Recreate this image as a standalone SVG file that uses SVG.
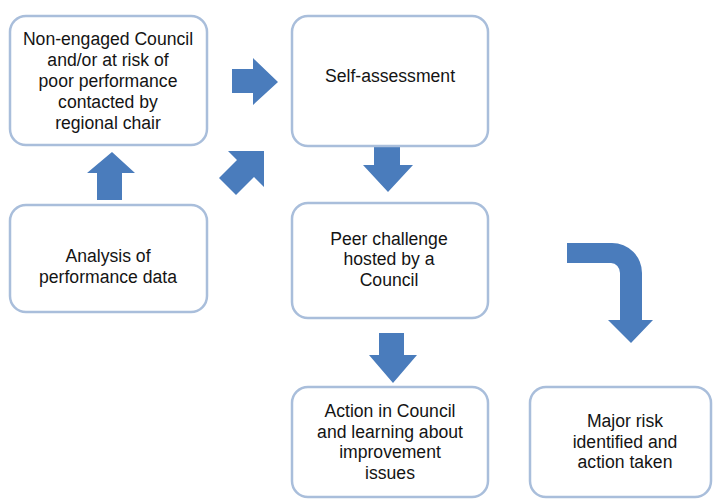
<svg xmlns="http://www.w3.org/2000/svg" width="714" height="499" viewBox="0 0 714 499">
<style>
.box{fill:#ffffff;stroke:#a9bedb;stroke-width:2.5}
.t{font-family:"Liberation Sans",Arial,sans-serif;font-size:17.6px;fill:#141414;text-anchor:middle}
.arr{fill:#4a7cbc}
</style>
<rect width="714" height="499" fill="#ffffff"/>
<g id="connectors">
<polygon class="arr" points="232,69 253,69 253,58 278,82 253,105 253,93 232,93"/>
<polygon class="arr" points="264,151 264,187 254,177 236,195 219,178 237,160 228,151"/>
<polygon class="arr" points="97,200 122,200 122,173 135,173 112,152 87,173 97,173"/>
<polygon class="arr" points="374,143 400,143 400,165 413,165 388,192 363,165 374,165"/>
<polygon class="arr" points="379,333 404,333 404,355 417,355 393,383 369,355 379,355"/>
<path class="arr" d="M567,243 H612 A30,30 0 0 1 642,273 V320 H653 L631,343 L608,320 H620 V273 A9,10 0 0 0 611,263 H567 Z"/>
</g>
<g id="node-nonengaged">
<rect class="box" x="10" y="16" width="197" height="129" rx="16"/>
<text class="t" x="108" y="45">Non-engaged Council</text>
<text class="t" x="108" y="66">and/or at risk of</text>
<text class="t" x="108" y="87">poor performance</text>
<text class="t" x="108" y="108">contacted by</text>
<text class="t" x="108" y="129">regional chair</text>
</g>
<g id="node-self">
<rect class="box" x="292" y="16" width="196" height="130" rx="16"/>
<text class="t" x="390" y="82">Self-assessment</text>
</g>
<g id="node-analysis">
<rect class="box" x="10" y="205" width="197" height="107" rx="16"/>
<text class="t" x="108" y="262">Analysis of</text>
<text class="t" x="108" y="283">performance data</text>
</g>
<g id="node-peer">
<rect class="box" x="292" y="203" width="196" height="115" rx="16"/>
<text class="t" x="389" y="245">Peer challenge</text>
<text class="t" x="389" y="265">hosted by a</text>
<text class="t" x="389" y="286">Council</text>
</g>
<g id="node-action">
<rect class="box" x="292" y="387" width="196" height="110" rx="16"/>
<text class="t" x="390" y="417">Action in Council</text>
<text class="t" x="390" y="438">and learning about</text>
<text class="t" x="390" y="458">improvement</text>
<text class="t" x="390" y="479">issues</text>
</g>
<g id="node-major">
<rect class="box" x="530" y="387" width="181" height="110" rx="16"/>
<text class="t" x="625" y="427">Major risk</text>
<text class="t" x="625" y="448">identified and</text>
<text class="t" x="625" y="468">action taken</text>
</g>
</svg>
